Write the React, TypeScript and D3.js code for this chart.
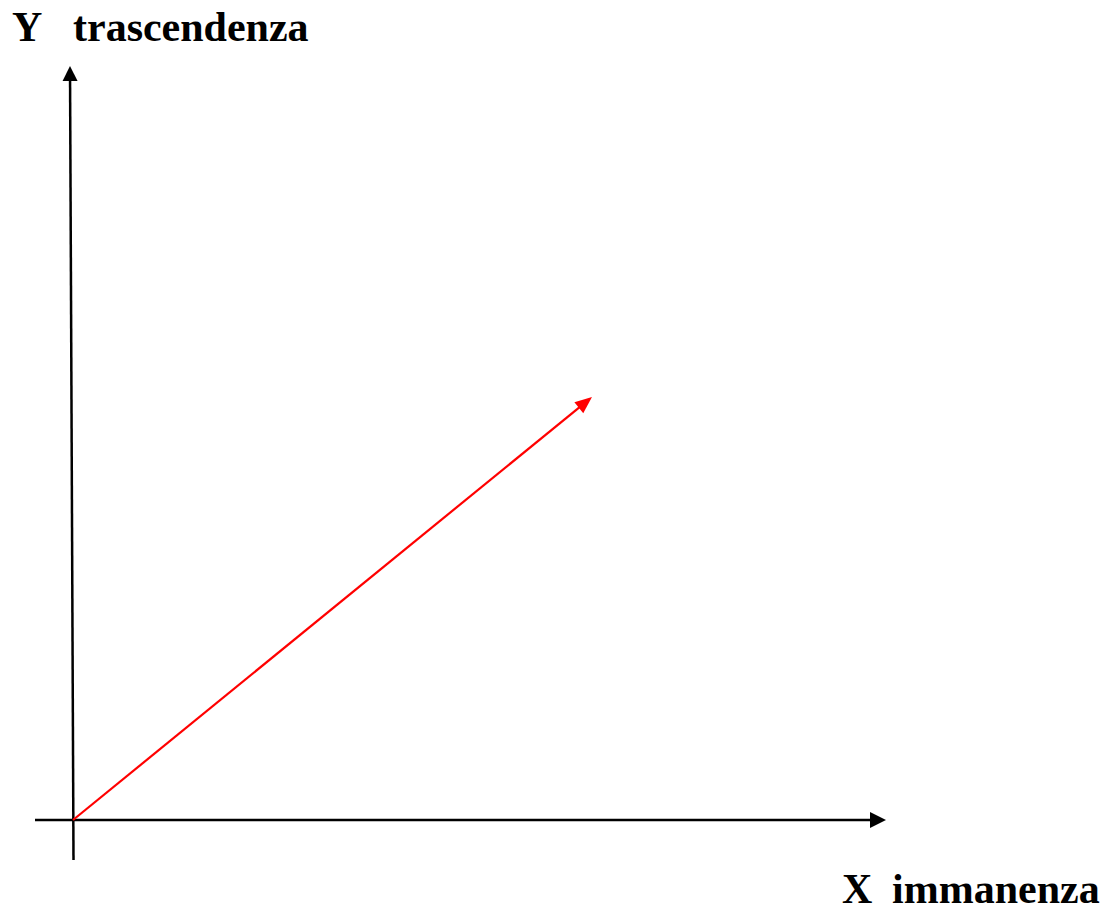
import React from "react";
import * as d3 from "d3";

// Axis extents in data units (origin at 0,0)
const xAxisRange = [-0.38, 8.13];
const yAxisBottom = { x: 0.005, y: -0.4 };
const yAxisTop = { x: -0.03, y: 7.54 };
// Vector (red arrow) from origin
const vectorStart = [0, 0];
const vectorEnd = [5.19, 4.23];
const labelY = ["Y", "trascendenza"];
const labelX = ["X", "immanenza"];

const W = 1106;
const H = 908;

export default function App() {
  const x = d3.scaleLinear().domain([0, 10]).range([73, 1073]);
  const y = d3.scaleLinear().domain([0, 10]).range([820, -180]);

  const headPath = (x1: number, y1: number, x2: number, y2: number, len: number, half: number) => {
    const dx = x2 - x1, dy = y2 - y1;
    const L = Math.hypot(dx, dy);
    const ux = dx / L, uy = dy / L;
    const bx = x2 - ux * len, by = y2 - uy * len;
    const px = -uy, py = ux;
    return `M${x2},${y2}L${bx + px * half},${by + py * half}L${bx - px * half},${by - py * half}Z`;
  };

  const line = d3.line<number[]>().x((d) => d[0]).y((d) => d[1]);

  const xa1 = [x(xAxisRange[0]), y(0)];
  const xa2 = [x(xAxisRange[1]), y(0)];
  const ya1 = [x(yAxisBottom.x), y(yAxisBottom.y)];
  const ya2 = [x(yAxisTop.x), y(yAxisTop.y)];
  const v1 = [x(vectorStart[0]), y(vectorStart[1])];
  const v2 = [x(vectorEnd[0]), y(vectorEnd[1])];

  const shorten = (a: number[], b: number[], d: number) => {
    const L = Math.hypot(b[0] - a[0], b[1] - a[1]);
    return [b[0] - ((b[0] - a[0]) / L) * d, b[1] - ((b[1] - a[1]) / L) * d];
  };

  const font = "'Liberation Serif', 'Times New Roman', serif";

  return (
    <div style={{ position: "absolute", left: 0, top: 0 }}>
      <svg width={W} height={H} style={{ display: "block", background: "#fff" }}>
        <path d={line([xa1, shorten(xa1, xa2, 12)]) || ""} stroke="#000" strokeWidth={2.5} fill="none" />
        <path d={headPath(xa1[0], xa1[1], xa2[0], xa2[1], 16, 8)} fill="#000" />
        <path d={line([ya1, shorten(ya1, ya2, 12)]) || ""} stroke="#000" strokeWidth={2.5} fill="none" />
        <path d={headPath(ya1[0], ya1[1], ya2[0], ya2[1], 15, 7.5)} fill="#000" />
        <path d={line([v1, shorten(v1, v2, 10)]) || ""} stroke="#ff0000" strokeWidth={2.2} fill="none" />
        <path d={headPath(v1[0], v1[1], v2[0], v2[1], 17, 7)} fill="#ff0000" />
        <text x={12} y={41} fontFamily={font} fontWeight="bold" fontSize={42} fill="#000">{labelY[0]}</text>
        <text x={73} y={41} fontFamily={font} fontWeight="bold" fontSize={42} fill="#000">{labelY[1]}</text>
        <text x={842} y={903} fontFamily={font} fontWeight="bold" fontSize={42} fill="#000">{labelX[0]}</text>
        <text x={892} y={903} fontFamily={font} fontWeight="bold" fontSize={42} fill="#000">{labelX[1]}</text>
      </svg>
    </div>
  );
}
